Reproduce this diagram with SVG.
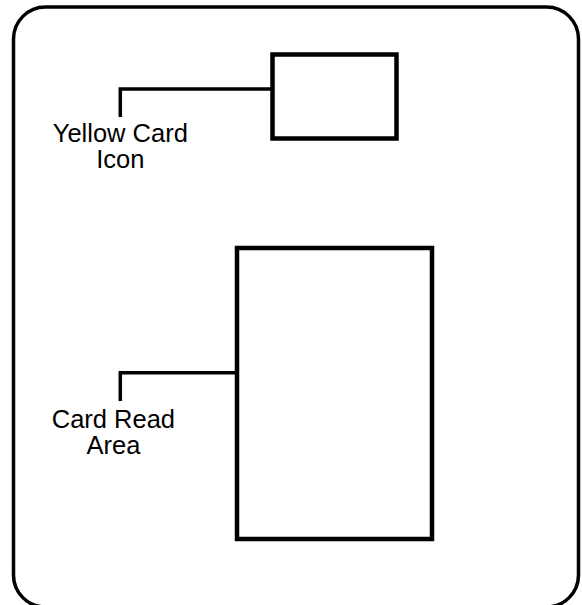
<svg xmlns="http://www.w3.org/2000/svg" width="582" height="605" viewBox="0 0 582 605">
<style>
.box{fill:none;stroke:#000;stroke-width:4.5}
.lead{fill:none;stroke:#000;stroke-width:3.5}
.lbl{font-family:"Liberation Sans",Arial,sans-serif;font-size:25.5px;fill:#000;text-anchor:middle}
</style>
<rect width="582" height="605" fill="#fff"/>
<g id="frame"><rect x="13.5" y="7" width="565" height="600" rx="32" ry="32" class="box" style="stroke-width:3.5"/></g>
<g id="yellow-card-icon"><rect x="272.5" y="54.5" width="124" height="84" class="box"/></g>
<g id="card-read-area"><rect x="237" y="248" width="195" height="291" class="box"/></g>
<g id="connectors">
<polyline class="lead" points="272,89 120.3,89 120.3,117"/>
<polyline class="lead" points="237,372.7 120.3,372.7 120.3,401"/>
</g>
<g id="labels">
<text class="lbl" x="120.3" y="141.7">Yellow Card</text>
<text class="lbl" x="120.3" y="168.3">Icon</text>
<text class="lbl" x="113.4" y="427.7">Card Read</text>
<text class="lbl" x="113.4" y="454.3">Area</text>
</g>
</svg>
